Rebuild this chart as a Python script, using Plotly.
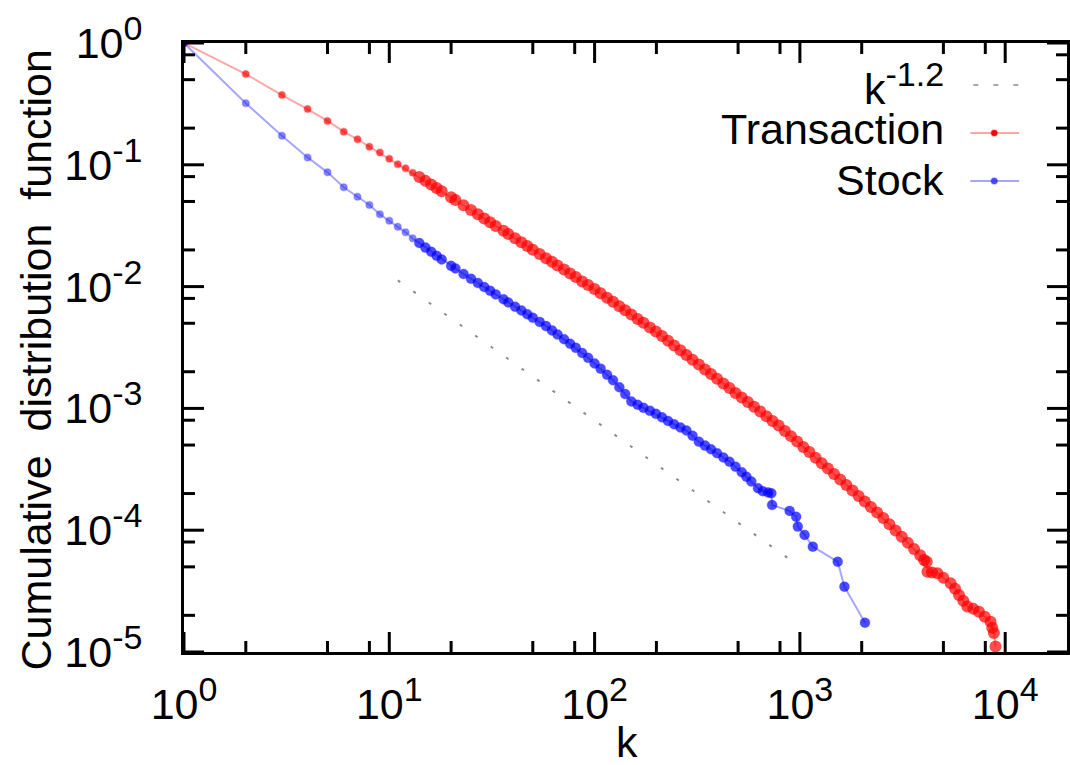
import math
import plotly.graph_objects as go

# ---------------- data ----------------
ref_k = [11, 1000]
ref_y = [0.01124, 5.02e-5]

trans_k = [1, 2, 3, 4, 5, 6, 7, 8, 9, 10, 11, 12, 13,
           14, 15, 16, 17, 18, 20, 21, 23, 25, 27, 29, 31, 33, 36, 38, 41, 44, 47, 50,
           54, 58, 62, 66, 71, 76, 81, 87, 93, 100,
           107, 115, 123, 132, 141, 151, 162, 173, 186, 199,
           213, 228, 244, 262, 280, 300, 322, 345, 369, 395,
           424, 454, 486, 521, 558, 598, 641, 687, 736, 788,
           845, 905, 970, 1039, 1113, 1193, 1278, 1369, 1467, 1572,
           1684, 1804, 1933, 2071, 2219, 2378, 2548, 2730, 2925, 3134,
           3358, 3598, 3855, 4026, 4150, 4181, 4400, 4677, 5000, 5426,
           5700, 5957, 6250, 6543, 7000, 7452, 7950, 8484, 8650, 8814, 8970]
trans_y = [1.0, 0.556, 0.374, 0.287, 0.229, 0.187, 0.162, 0.141, 0.126, 0.112, 0.101, 0.0936, 0.086,
           0.0794, 0.0738, 0.0689, 0.0646, 0.0607, 0.0541, 0.0514, 0.0466, 0.0426, 0.0392,
           0.0363, 0.0337, 0.0315, 0.0287, 0.0270, 0.0249, 0.0231, 0.0215, 0.0201,
           0.0185, 0.0171, 0.0160, 0.0149, 0.0138, 0.0128, 0.0120, 0.0110, 0.0103, 0.00955,
           0.00883, 0.00811, 0.00750, 0.00690, 0.00640, 0.00590, 0.00543, 0.00504, 0.00462, 0.00428,
           0.00393, 0.00359, 0.00329, 0.00300, 0.00275, 0.00251, 0.00229, 0.00209, 0.00192, 0.00175,
           0.00160, 0.00147, 0.00134, 0.00123, 0.00113, 0.00103, 0.000942, 0.000861, 0.000788, 0.000723,
           0.000652, 0.000592, 0.000536, 0.000483, 0.000438, 0.000393, 0.000354, 0.000321, 0.000289, 0.000261,
           0.000235, 0.000212, 0.000191, 0.000172, 0.000155, 0.000140, 0.000126, 0.000112, 0.0000995, 0.0000885,
           0.0000787, 0.0000700, 0.0000622, 0.0000569, 0.0000550, 0.0000456, 0.0000450, 0.0000443, 0.0000407, 0.0000366,
           0.0000331, 0.0000294, 0.0000263, 0.0000236, 0.0000226, 0.0000214, 0.0000195, 0.0000177, 0.0000158, 0.0000143,
           0.0000111]

stock_k = [1, 2, 3, 4, 5, 6, 7, 8, 9, 10, 11, 12, 13,
           14, 15, 16, 17, 18, 20, 21, 23, 25, 27,
           29, 31, 33, 36, 38, 41, 44, 47, 50, 54,
           58, 62, 66, 71, 76, 81, 87, 93, 100,
           107, 115, 123, 132, 141, 151, 162, 173, 186, 199,
           213, 228, 244, 262, 280, 300, 322, 345, 369, 395,
           424, 454, 486, 521, 549, 580, 625,
           660, 700, 726, 732, 891, 959, 977, 1054, 1156, 1528, 1648, 2075]
stock_y = [1.0, 0.32, 0.173, 0.115, 0.0867, 0.0653, 0.0547, 0.0468, 0.0392, 0.0348, 0.031, 0.0279, 0.0249,
           0.0228, 0.0209, 0.0193, 0.0179, 0.0167, 0.0148, 0.0141, 0.0127, 0.0116, 0.0107,
           0.00993, 0.00924, 0.00863, 0.00787, 0.00741, 0.00684, 0.00637, 0.00593, 0.00555, 0.00513,
           0.00474, 0.00437, 0.00404, 0.00370, 0.00340, 0.00314, 0.00285, 0.00260, 0.00234,
           0.00212, 0.00189, 0.00170, 0.00149, 0.00131, 0.00114, 0.00107, 0.00101, 0.000955, 0.000902,
           0.000844, 0.000789, 0.000741, 0.000697, 0.000658, 0.000597, 0.000533, 0.000495, 0.000462, 0.000429,
           0.000395, 0.000365, 0.000332, 0.000299, 0.000275, 0.000251, 0.000221,
           0.000209, 0.000204, 0.000201, 0.000161, 0.000144, 0.000129, 0.000107, 0.0000914, 0.0000733,
           0.0000551, 0.0000344, 0.0000174]

x_ticks = [1, 10, 100, 1000, 10000]
x_tick_exp = ["0", "1", "2", "3", "4"]
x_minor = [2, 5, 8, 20, 50, 80, 200, 500, 800, 2000, 5000, 8000]
y_ticks = [1e-5, 1e-4, 1e-3, 1e-2, 1e-1, 1]
y_tick_exp = ["-5", "-4", "-3", "-2", "-1", "0"]
y_minor = [2e-5, 5e-5, 8e-5, 2e-4, 5e-4, 8e-4, 2e-3, 5e-3, 8e-3,
           0.02, 0.05, 0.08, 0.2, 0.5, 0.8]

legend_base = ["k", "Transaction", "Stock"]
legend_exp = ["-1.2", "", ""]

# ---------------- figure ----------------
FONT = "Liberation Sans, Arial, sans-serif"
FS = 43
SUP = 34
RED_LINE = "rgba(255,0,0,0.35)"
BLUE_LINE = "rgba(0,0,255,0.35)"
GREY = "#8c8c8c"
XR = [0, 4.30103]
YR = [-5, 0]
MAJ, MIN, TW = 20, 11, 3


def power_label(base, exp):
    if not exp:
        return base
    return f'{base}<sup><span style="font-size:{SUP}px">{exp}</span></sup>'


def by_density(ks, sparse, dense):
    return [sparse if k <= 13 else dense for k in ks]


fig = go.Figure()
fig.add_trace(go.Scatter(x=ref_k, y=ref_y, mode="lines",
                         line=dict(color=GREY, width=2, dash="3px,16px"),
                         showlegend=False, hoverinfo="skip"))
fig.add_trace(go.Scatter(x=trans_k, y=trans_y, mode="lines+markers",
                         line=dict(color=RED_LINE, width=2),
                         marker=dict(color="#ff0000", size=by_density(trans_k, 7, 12),
                                     line=dict(color=by_density(trans_k, "rgba(255,0,0,0.35)", "#ff0000"),
                                               width=by_density(trans_k, 1.5, 0))),
                         showlegend=False))
fig.add_trace(go.Scatter(x=stock_k, y=stock_y, mode="lines+markers",
                         line=dict(color=BLUE_LINE, width=2),
                         marker=dict(color=by_density(stock_k, "rgba(40,40,255,0.8)", "#0000ff"),
                                     size=by_density(stock_k, 7, 10),
                                     line=dict(color="rgba(0,0,255,0.3)",
                                               width=by_density(stock_k, 1.5, 1))),
                         showlegend=False))

L, T, W, H = 184, 43, 1070, 765
B = 652
R = 1070
pw, ph = R - L, B - T


def px(xp):
    return (xp - L) / pw


def py(yp):
    return (B - yp) / ph


def xfrac(v):
    return (math.log10(v) - XR[0]) / (XR[1] - XR[0])


def yfrac(v):
    return (math.log10(v) - YR[0]) / (YR[1] - YR[0])


def axis(rng, vals, ticktext, standoff):
    return dict(type="log", range=rng, showline=True, linewidth=3, linecolor="black",
                mirror=True, ticks="", showgrid=False, zeroline=False,
                tickmode="array", tickvals=vals, ticktext=ticktext,
                ticklabelstandoff=standoff,
                tickfont=dict(family=FONT, size=FS, color="black"))


fig.update_layout(
    width=W, height=H,
    margin=dict(l=L, r=W - R, t=T, b=H - B),
    plot_bgcolor="white",
    xaxis=axis(XR, x_ticks, [power_label("10", e) for e in x_tick_exp], 12),
    yaxis=axis(YR, y_ticks, [power_label("10", e) for e in y_tick_exp], 30),
    showlegend=False,
)

annotations = [
    dict(text="Cumulative\u00a0 distribution\u00a0 function", textangle=-90,
         xref="paper", yref="paper", x=px(35), y=py(360),
         xanchor="center", yanchor="middle", showarrow=False,
         font=dict(family=FONT, size=FS, color="black")),
    dict(text="k", xref="paper", yref="paper", x=px(629), y=py(742),
         xanchor="center", yanchor="middle", showarrow=False,
         font=dict(family=FONT, size=FS, color="black")),
]
row_y = [85, 133, 181]
text_y = [84, 129, 180]
for base, exp, ty in zip(legend_base, legend_exp, text_y):
    annotations.append(dict(text=power_label(base, exp), xref="paper", yref="paper",
                            x=px(949), y=py(ty),
                            xanchor="right", yanchor="middle", showarrow=False,
                            font=dict(family=FONT, size=FS, color="black")))
fig.update_layout(annotations=annotations)

shapes = []
tick_line = dict(color="black", width=TW)
# inward tick marks on all four sides, placed from the axis values
for vals, ln in ((x_ticks, MAJ), (x_minor, MIN)):
    for v in vals:
        f = xfrac(v)
        shapes.append(dict(type="line", xref="paper", yref="paper", ysizemode="pixel",
                           x0=f, x1=f, yanchor=0, y0=0, y1=ln, line=tick_line))
        shapes.append(dict(type="line", xref="paper", yref="paper", ysizemode="pixel",
                           x0=f, x1=f, yanchor=1, y0=-ln, y1=0, line=tick_line))
for vals, ln in ((y_ticks, MAJ), (y_minor, MIN)):
    for v in vals:
        f = yfrac(v)
        shapes.append(dict(type="line", xref="paper", yref="paper", xsizemode="pixel",
                           y0=f, y1=f, xanchor=0, x0=0, x1=ln, line=tick_line))
        shapes.append(dict(type="line", xref="paper", yref="paper", xsizemode="pixel",
                           y0=f, y1=f, xanchor=1, x0=-ln, x1=0, line=tick_line))

shapes += [
    dict(type="line", xref="paper", yref="paper", x0=px(976), x1=px(1022), y0=py(row_y[0]), y1=py(row_y[0]),
         line=dict(color="#a8a8a8", width=2, dash="5px,15px")),
    dict(type="line", xref="paper", yref="paper", x0=px(973), x1=px(1022), y0=py(row_y[1]), y1=py(row_y[1]),
         line=dict(color=RED_LINE, width=2)),
    dict(type="line", xref="paper", yref="paper", x0=px(973), x1=px(1022), y0=py(row_y[2]), y1=py(row_y[2]),
         line=dict(color=BLUE_LINE, width=2)),
    dict(type="circle", xref="paper", yref="paper", xsizemode="pixel", ysizemode="pixel",
         xanchor=px(997), yanchor=py(row_y[1]), x0=-3, x1=3, y0=-3, y1=3,
         fillcolor="#ff0000", line=dict(color="rgba(255,0,0,0.35)", width=1.5)),
    dict(type="circle", xref="paper", yref="paper", xsizemode="pixel", ysizemode="pixel",
         xanchor=px(997), yanchor=py(row_y[2]), x0=-3, x1=3, y0=-3, y1=3,
         fillcolor="rgba(40,40,255,0.8)", line=dict(color="rgba(0,0,255,0.3)", width=1.5)),
]
fig.update_layout(shapes=shapes)

fig.write_html("out.html")
